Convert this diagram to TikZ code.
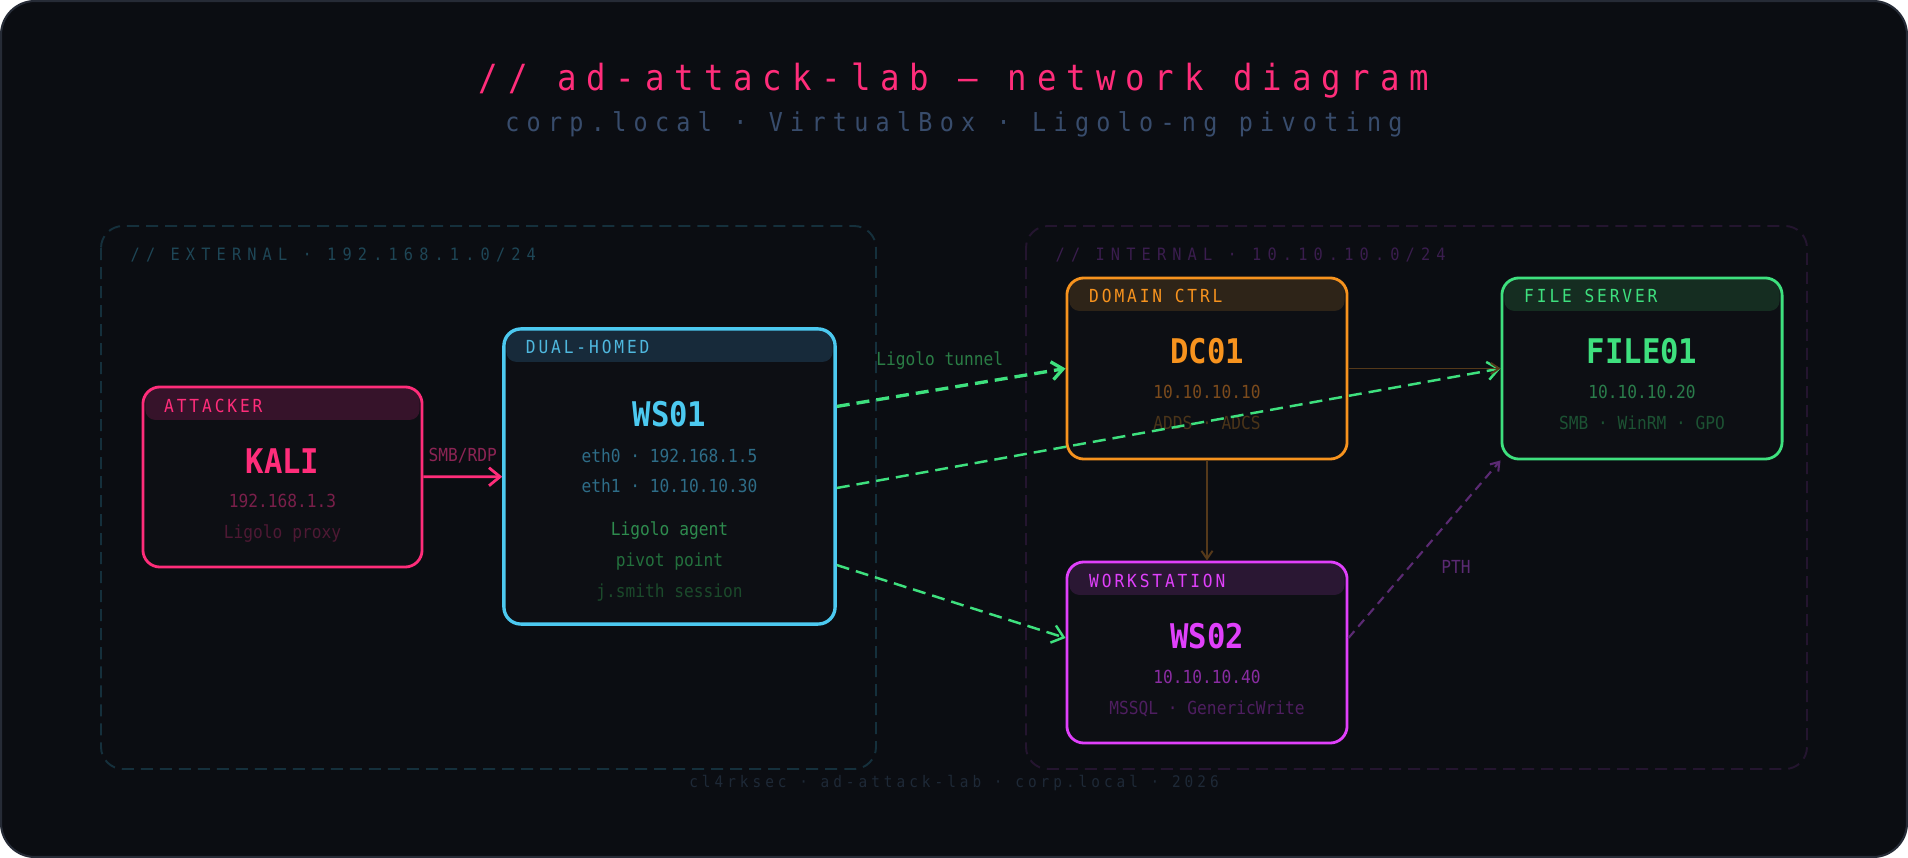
\documentclass[tikz,border=0pt]{standalone}
\usepackage{fontspec}
\usepackage{xcolor}
\setmonofont{DejaVu Sans Mono}[FakeStretch=0.9]
\newfontfamily\titlefont{DejaVu Sans Mono}[FakeStretch=0.9, LetterSpace=27.5]
\newfontfamily\subfont{DejaVu Sans Mono}[FakeStretch=0.9, LetterSpace=28]
\newfontfamily\zonefont{DejaVu Sans Mono}[FakeStretch=0.9, LetterSpace=36]
\newfontfamily\hdfont{DejaVu Sans Mono}[FakeStretch=0.9, LetterSpace=16]
\newfontfamily\footfont{DejaVu Sans Mono}[FakeStretch=0.9, LetterSpace=25]
\usetikzlibrary{positioning,calc,arrows.meta}

% palette
\definecolor{bgc}{HTML}{0B0D12}
\definecolor{nodebg}{HTML}{0D0F14}
\definecolor{framec}{HTML}{262B36}
\definecolor{titlepink}{HTML}{FF2D7A}
\definecolor{subslate}{HTML}{384C6C}
\definecolor{extzone}{HTML}{15303C}
\definecolor{extlabel}{HTML}{1E4656}
\definecolor{intzone}{HTML}{24152F}
\definecolor{intlabel}{HTML}{3A1D4E}
\definecolor{kalic}{HTML}{FF2D7A}
\definecolor{kalihd}{HTML}{36132A}
\definecolor{kaliip}{HTML}{7A1F4A}
\definecolor{kalisub}{HTML}{4E1934}
\definecolor{smbc}{HTML}{8C2454}
\definecolor{wsc}{HTML}{4CC9F0}
\definecolor{wshd}{HTML}{172A3A}
\definecolor{wshdtext}{HTML}{4FB8DE}
\definecolor{wseth}{HTML}{2E6D88}
\definecolor{wsagent}{HTML}{2E8B4E}
\definecolor{wspivot}{HTML}{23703D}
\definecolor{wssess}{HTML}{1B4A2B}
\definecolor{dcc}{HTML}{F7931E}
\definecolor{dchd}{HTML}{2E2418}
\definecolor{dcip}{HTML}{7C4B1C}
\definecolor{dcsub}{HTML}{4A3419}
\definecolor{filec}{HTML}{3EE07E}
\definecolor{filehd}{HTML}{152D21}
\definecolor{fileip}{HTML}{2A7D4B}
\definecolor{filesub}{HTML}{1C5233}
\definecolor{wstwoc}{HTML}{E040FB}
\definecolor{wstwohd}{HTML}{2A1733}
\definecolor{wstwoip}{HTML}{8A2CA2}
\definecolor{wstwosub}{HTML}{4E1E60}
\definecolor{tunnelc}{HTML}{3EE07E}
\definecolor{tunlbl}{HTML}{2A7D45}
\definecolor{trustc}{HTML}{55391A}
\definecolor{pthc}{HTML}{5B2A73}
\definecolor{footc}{HTML}{1E2937}

\tikzset{
  machine/.style n args={3}{draw=#1, fill=nodebg, line width=#3, rounded corners=0.17cm,
    inner sep=0pt, path picture={
      \fill[#2, rounded corners=0.1cm]
        ([shift={(0.025cm,0.3cm)}]path picture bounding box.north west) rectangle
        ([shift={(-0.025cm,-0.33cm)}]path picture bounding box.north east);}},
  hdtext/.style={anchor=west, inner sep=0pt, text height=3.73pt, text depth=0pt,
    font=\hdfont\fontsize{5.12}{6}\selectfont},
  nametext/.style={inner sep=0pt, text height=7.05pt, text depth=0pt,
    font=\ttfamily\bfseries\fontsize{9.67}{11}\selectfont},
  infotext/.style={inner sep=0pt, text height=3.73pt, text depth=0pt,
    font=\ttfamily\fontsize{5.12}{6}\selectfont},
  zone/.style={dash pattern=on 0.12cm off 0.07cm, line width=0.55pt, rounded corners=0.22cm},
  zonetext/.style={anchor=west, inner sep=0pt, text height=3.53pt, text depth=0pt,
    font=\zonefont\fontsize{4.84}{6}\selectfont},
  tunnel/.style={draw=tunnelc, dash pattern=on 0.13cm off 0.07cm,
    -{Straight Barb[length=0.11cm,width=0.18cm]}},
  trust/.style={draw=trustc, line width=0.55pt,
    -{Straight Barb[length=0.08cm,width=0.11cm]}},
}

\begin{document}
\begin{tikzpicture}[x=0.01cm, y=-0.01cm]
  \useasboundingbox (0,0) rectangle (1908,858);
  \fill[white] (0,0) rectangle (1908,858);
  \draw[draw=framec, fill=bgc, line width=0.6pt, rounded corners=0.34cm] (1,1) rectangle (1907,857);

  % header
  \node[inner sep=0pt, text height=7.47pt, text depth=0pt, text=titlepink,
    font=\titlefont\fontsize{10.24}{12}\selectfont] (title) at (954,77) {// ad-attack-lab — network diagram};
  \node[inner sep=0pt, text height=5.4pt, text depth=0pt, text=subslate,
    font=\subfont\fontsize{7.4}{9}\selectfont] (subtitle) at (954,122) {corp.local · VirtualBox · Ligolo-ng pivoting};

  % zones
  \draw[zone, draw=extzone] (101,226) rectangle (876,769);
  \node[zonetext, text=extlabel] (extlbl) at (130,254) {// EXTERNAL · 192.168.1.0/24};
  \draw[zone, draw=intzone] (1026,226) rectangle (1807,769);
  \node[zonetext, text=intlabel] (intlbl) at (1055,254) {// INTERNAL · 10.10.10.0/24};

  % attacker
  \node[machine={kalic}{kalihd}{0.8pt}, minimum width=2.79cm, minimum height=1.80cm] (kali) at (282.5,477) {};
  \node[hdtext, text=kalic] (kalihdr) at ([xshift=0.22cm, yshift=-0.2cm]kali.north west) {ATTACKER};
  \node[nametext, text=kalic] (kaliname) at ([yshift=-0.76cm]kali.north) {KALI};
  \node[infotext, text=kaliip] (kaliip) at ([yshift=-1.15cm]kali.north) {192.168.1.3};
  \node[infotext, text=kalisub] (kalirole) at ([yshift=-1.46cm]kali.north) {Ligolo proxy};

  % dual-homed
  \node[machine={wsc}{wshd}{0.95pt}, minimum width=3.31cm, minimum height=2.95cm] (ws01) at (669.5,476.5) {};
  \node[hdtext, text=wshdtext] (ws01hdr) at ([xshift=0.23cm, yshift=-0.2cm]ws01.north west) {DUAL-HOMED};
  \node[nametext, text=wsc] (ws01name) at ([yshift=-0.87cm]ws01.north) {WS01};
  \node[infotext, text=wseth] (ws01eth0) at ([yshift=-1.29cm]ws01.north) {eth0 · 192.168.1.5};
  \node[infotext, text=wseth] (ws01eth1) at ([yshift=-1.59cm]ws01.north) {eth1 · 10.10.10.30};
  \node[infotext, text=wsagent] (ws01agent) at ([yshift=-2.02cm]ws01.north) {Ligolo agent};
  \node[infotext, text=wspivot] (ws01pivot) at ([yshift=-2.33cm]ws01.north) {pivot point};
  \node[infotext, text=wssess] (ws01sess) at ([yshift=-2.64cm]ws01.north) {j.smith session};

  % domain controller
  \node[machine={dcc}{dchd}{0.8pt}, minimum width=2.80cm, minimum height=1.81cm] (dc01) at (1207,368.5) {};
  \node[hdtext, text=dcc] (dc01hdr) at ([xshift=0.23cm, yshift=-0.19cm]dc01.north west) {DOMAIN CTRL};
  \node[nametext, text=dcc] (dc01name) at ([yshift=-0.75cm]dc01.north) {DC01};
  \node[infotext, text=dcip] (dc01ip) at ([yshift=-1.15cm]dc01.north) {10.10.10.10};
  \node[infotext, text=dcsub] (dc01role) at ([yshift=-1.46cm]dc01.north) {ADDS · ADCS};

  % file server
  \node[machine={filec}{filehd}{0.8pt}, minimum width=2.80cm, minimum height=1.81cm] (file01) at (1642,368.5) {};
  \node[hdtext, text=filec] (file01hdr) at ([xshift=0.23cm, yshift=-0.19cm]file01.north west) {FILE SERVER};
  \node[nametext, text=filec] (file01name) at ([yshift=-0.75cm]file01.north) {FILE01};
  \node[infotext, text=fileip] (file01ip) at ([yshift=-1.15cm]file01.north) {10.10.10.20};
  \node[infotext, text=filesub] (file01role) at ([yshift=-1.46cm]file01.north) {SMB · WinRM · GPO};

  % workstation
  \node[machine={wstwoc}{wstwohd}{0.8pt}, minimum width=2.80cm, minimum height=1.81cm] (ws02) at (1207,652.5) {};
  \node[hdtext, text=wstwoc] (ws02hdr) at ([xshift=0.23cm, yshift=-0.2cm]ws02.north west) {WORKSTATION};
  \node[nametext, text=wstwoc] (ws02name) at ([yshift=-0.76cm]ws02.north) {WS02};
  \node[infotext, text=wstwoip] (ws02ip) at ([yshift=-1.16cm]ws02.north) {10.10.10.40};
  \node[infotext, text=wstwosub] (ws02role) at ([yshift=-1.47cm]ws02.north) {MSSQL · GenericWrite};

  % links
  \draw[draw=kalic, line width=0.8pt, -{Straight Barb[length=0.11cm,width=0.18cm]}] (kali) -- (ws01)
    node[infotext, text=smbc, midway, above=0.135cm] (smblbl) {SMB/RDP};
  \draw[tunnel, line width=0.95pt] ([yshift=0.7cm]ws01.east) -- (dc01.west)
    node[infotext, text=tunlbl, pos=0.45, above=0.22cm] (tunnellbl) {Ligolo tunnel};
  \draw[tunnel, line width=0.7pt] ([yshift=-0.115cm]ws01.east) -- (file01.west);
  \draw[tunnel, line width=0.7pt] ([yshift=-0.885cm]ws01.east) -- ([yshift=0.145cm]ws02.west);
  \draw[trust] (dc01) -- (file01);
  \draw[trust] (dc01) -- (ws02);
  \draw[draw=pthc, line width=0.6pt, dash pattern=on 0.09cm off 0.06cm,
    -{Straight Barb[length=0.08cm,width=0.11cm]}] ([yshift=0.145cm]ws02.east) -- (file01.south west)
    node[infotext, text=pthc, pos=0.4, right=0.31cm] (pthlbl) {PTH};

  % footer
  \node[inner sep=0pt, text height=3.32pt, text depth=0pt, text=footc,
    font=\footfont\fontsize{4.55}{6}\selectfont] (footer) at (954,782) {cl4rksec · ad-attack-lab · corp.local · 2026};
\end{tikzpicture}
\end{document}
